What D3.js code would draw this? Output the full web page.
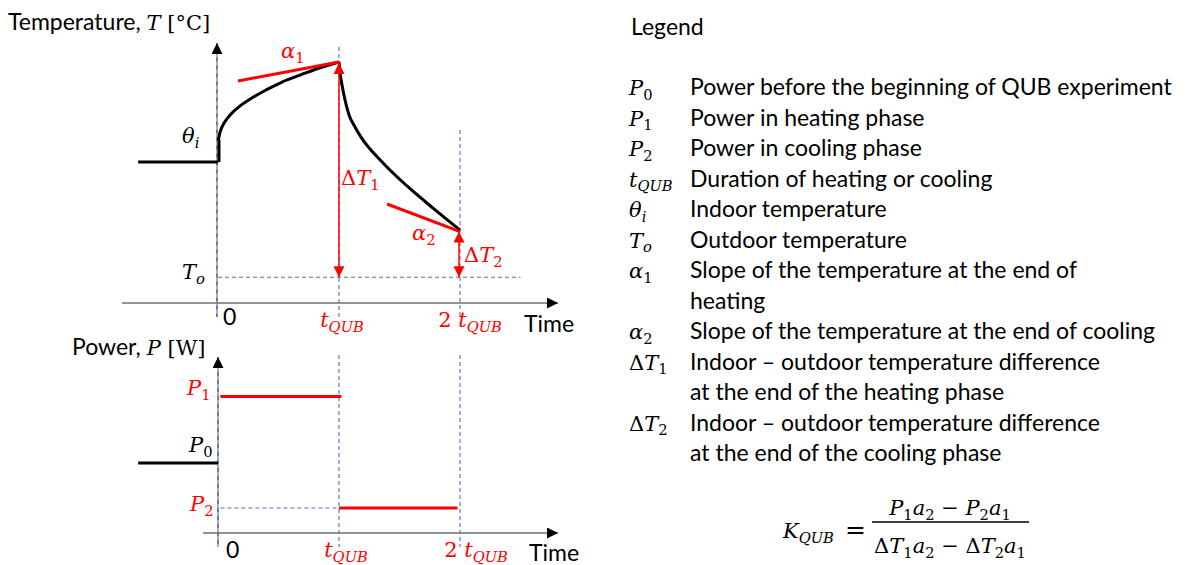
<!DOCTYPE html>
<html><head><meta charset="utf-8">
<script src="https://cdn.jsdelivr.net/npm/d3@7"></script>
<style>body{margin:0;background:#fff} svg{display:block}</style>
</head><body>
<svg id="c" width="1186" height="565"></svg>
<script>
// ---------------- data ----------------
const timeTicks = [0, 1, 2];                       // in units of t_QUB
const preTime = [-0.66, 0];
const preTemp = [5.35, 5.35];
const stepTemp = [5.35, 6.37];
const heatTime = [0.004, 0.017, 0.05, 0.1, 0.18, 0.28, 0.397, 0.529, 0.678, 0.826, 1.0];
const heatTemp = [6.37, 6.75, 7.16, 7.54, 7.95, 8.33, 8.70, 9.07, 9.39, 9.70, 10];
const coolTime = [1.0, 1.008, 1.025, 1.05, 1.083, 1.132, 1.182, 1.364, 1.562, 1.777, 2.0];
const coolTemp = [10, 9.53, 8.93, 8.23, 7.54, 6.98, 6.51, 5.31, 4.24, 3.21, 2.19];
const outdoorTemp = 0;
const alpha1Time = [0.165, 1.0], alpha1Temp = [9.12, 10];
const alpha2Time = [1.397, 2.0], alpha2Temp = [3.40, 2.12];
const powerNames = ["P0", "P1", "P2"];
const powerValues = [4.67, 9.1, 1.67];
const powerStart = [-0.66, 0.02, 1.0];
const powerEnd = [0, 1.02, 1.98];
const legendSymbols = [
  [["P","i"],["0","sr"]], [["P","i"],["1","sr"]], [["P","i"],["2","sr"]],
  [["t","i"],["QUB","si"]], [["θ","i"],["i","si"]], [["T","i"],["o","si"]],
  [["α","i"],["1","sr"]], [["α","i"],["2","sr"]],
  [["Δ","r"],["T","i"],["1","sr"]], [["Δ","r"],["T","i"],["2","sr"]]
];
const legendTexts = [
  ["Power before the beginning of QUB experiment"],
  ["Power in heating phase"],
  ["Power in cooling phase"],
  ["Duration of heating or cooling"],
  ["Indoor temperature"],
  ["Outdoor temperature"],
  ["Slope of the temperature at the end of", "heating"],
  ["Slope of the temperature at the end of cooling"],
  ["Indoor – outdoor temperature difference", "at the end of the heating phase"],
  ["Indoor – outdoor temperature difference", "at the end of the cooling phase"]
];

// ---------------- setup ----------------
const RED = "#ff0000", BLUE = "#4472c4", GRAY = "#6f6f6f";
const SANS = "Lato, 'Open Sans', sans-serif";
const SERIF = "'DejaVu Serif', 'Liberation Serif', serif";
const FS = 23;     // sans font size
const MS = 21;     // math font size
const svg = d3.select("#c");
const defs = svg.append("defs");
function marker(id, color, w, l) {
  defs.append("marker").attr("id", id).attr("markerUnits", "userSpaceOnUse")
    .attr("viewBox", `0 0 ${l} ${w}`).attr("refX", l).attr("refY", w / 2)
    .attr("markerWidth", l).attr("markerHeight", w).attr("orient", "auto-start-reverse")
    .append("path").attr("d", `M0,0L${l},${w / 2}L0,${w}Z`).attr("fill", color);
}
marker("ab", "#000", 11, 11);
marker("ar", RED, 11, 11);

const x = d3.scaleLinear().domain([0, 2]).range([218, 460]);
const yT = d3.scaleLinear().domain([-1.2, 10]).range([303, 62]);
const yP = d3.scaleLinear().domain([0, 10]).range([533, 383]);

function math(g, px, py, parts, opt) {
  opt = opt || {};
  const size = opt.size || MS;
  const t = g.append("text").attr("x", px).attr("y", py)
    .attr("font-family", SERIF).attr("font-size", size)
    .attr("fill", opt.color || "#000")
    .attr("text-anchor", opt.anchor || "start");
  let cur = 0;
  parts.forEach(([s, k]) => {
    const sub = k[0] === "s";
    const target = sub ? size * 0.22 : 0;
    const ts = t.append("tspan").text(s)
      .attr("font-style", k.endsWith("i") ? "italic" : "normal")
      .attr("font-size", sub ? size * 0.7 : size);
    if (target !== cur) { ts.attr("dy", target - cur); cur = target; }
  });
  return t;
}
function dash(g, x1, y1, x2, y2, color, da, off) {
  g.append("line").attr("x1", x1).attr("y1", y1).attr("x2", x2).attr("y2", y2)
    .attr("stroke", color).attr("stroke-width", 1.1)
    .attr("stroke-dasharray", da).attr("stroke-dashoffset", off || 0);
}
const lineGen = (ys) => d3.line().x(d => x(d[0])).y(d => ys(d[1]));
function sansText(g, px, py, s) {
  return g.append("text").attr("x", px).attr("y", py).attr("font-family", SANS)
    .attr("font-size", FS).attr("fill", "#000").text(s);
}

// ---------------- temperature panel ----------------
const gT = svg.append("g");
const tt = gT.append("text").attr("x", 8).attr("y", 30).attr("font-size", FS).attr("font-family", SANS);
tt.append("tspan").text("Temperature, ");
tt.append("tspan").text("T").attr("font-family", SERIF).attr("font-style", "italic").attr("font-size", MS);
tt.append("tspan").text(" [°C]").attr("font-family", SERIF).attr("font-size", MS);

dash(gT, x(1), yT(10.7), x(1), yT(-1.85), BLUE, "4,3");
dash(gT, x(2), yT(6.84), x(2), yT(-1.85), BLUE, "4,3");
dash(gT, x(0), yT(outdoorTemp), x(2.5), yT(outdoorTemp), GRAY, "4,3");
dash(gT, x(0) - 1, yT(10.4), x(0) - 1, yT(-1.85), BLUE, "4,4");
dash(gT, x(0) - 1, yT(10.4), x(0) - 1, yT(-1.85), "#111", "4,4", 4);
gT.append("line").attr("x1", x(0) - 1).attr("y1", yT(10.5)).attr("x2", x(0) - 1).attr("y2", yT(10.88))
  .attr("stroke", "#000").attr("stroke-width", 1).attr("marker-end", "url(#ab)");
gT.append("line").attr("x1", x(-0.793)).attr("y1", yT(-1.2)).attr("x2", x(2.81)).attr("y2", yT(-1.2))
  .attr("stroke", GRAY).attr("stroke-width", 1.6).attr("marker-end", "url(#ab)");

gT.append("path").datum(d3.zip(preTime, preTemp)).attr("d", lineGen(yT))
  .attr("fill", "none").attr("stroke", "#000").attr("stroke-width", 3);
gT.append("path").datum([[0, stepTemp[0]], [0, stepTemp[1]]]).attr("d", lineGen(yT))
  .attr("fill", "none").attr("stroke", "#000").attr("stroke-width", 3).attr("transform", "translate(1,0)");
gT.append("path").datum(d3.zip(heatTime, heatTemp)).attr("d", lineGen(yT).curve(d3.curveCatmullRom.alpha(0.5)))
  .attr("fill", "none").attr("stroke", "#000").attr("stroke-width", 3);
gT.append("path").datum(d3.zip(coolTime, coolTemp)).attr("d", lineGen(yT).curve(d3.curveMonotoneX))
  .attr("fill", "none").attr("stroke", "#000").attr("stroke-width", 3);

gT.append("path").datum(d3.zip(alpha1Time, alpha1Temp)).attr("d", lineGen(yT))
  .attr("stroke", RED).attr("stroke-width", 3);
gT.append("path").datum(d3.zip(alpha2Time, alpha2Temp)).attr("d", lineGen(yT))
  .attr("stroke", RED).attr("stroke-width", 3);
gT.append("line").attr("x1", x(1)).attr("y1", yT(10) + 1).attr("x2", x(1)).attr("y2", yT(outdoorTemp))
  .attr("stroke", RED).attr("stroke-width", 1.5).attr("marker-start", "url(#ar)").attr("marker-end", "url(#ar)");
gT.append("line").attr("x1", x(2) - 1).attr("y1", yT(alpha2Temp[1])).attr("x2", x(2) - 1).attr("y2", yT(outdoorTemp))
  .attr("stroke", RED).attr("stroke-width", 1.5).attr("marker-start", "url(#ar)").attr("marker-end", "url(#ar)");

math(gT, 182, 143, [["θ","i"],["i","si"]]);
math(gT, 182, 279, [["T","i"],["o","si"]]);
math(gT, 281, 58, [["α","i"],["1","sr"]], {color: RED});
math(gT, 341, 185, [["Δ","r"],["T","i"],["1","sr"]], {color: RED});
math(gT, 412, 240, [["α","i"],["2","sr"]], {color: RED});
math(gT, 464, 262, [["Δ","r"],["T","i"],["2","sr"]], {color: RED});
sansText(gT, x(timeTicks[0]) + 5, 325, "0");
math(gT, x(timeTicks[1]) + 3, 327, [["t","i"],["QUB","si"]], {color: RED, anchor: "middle"});
math(gT, x(timeTicks[2]) + 10, 327, [["2 ","r"],["t","i"],["QUB","si"]], {color: RED, anchor: "middle"});
sansText(gT, 524, 332, "Time");

// ---------------- power panel ----------------
const gP = svg.append("g");
const pt = gP.append("text").attr("x", 72).attr("y", 355).attr("font-size", FS).attr("font-family", SANS);
pt.append("tspan").text("Power, ");
pt.append("tspan").text("P").attr("font-family", SERIF).attr("font-style", "italic").attr("font-size", MS);
pt.append("tspan").text(" [W]").attr("font-family", SERIF).attr("font-size", MS);

dash(gP, x(1), yP(11.87), x(1), yP(-0.93), BLUE, "4,3");
dash(gP, x(2), yP(11.87), x(2), yP(-0.93), BLUE, "4,3");
dash(gP, x(0.02), yP(powerValues[2]), x(1), yP(powerValues[2]), BLUE, "4,3");
dash(gP, x(0), yP(11), x(0), yP(-0.93), BLUE, "4,4");
dash(gP, x(0), yP(11), x(0), yP(-0.93), "#111", "4,4", 4);
gP.append("line").attr("x1", x(0)).attr("y1", yP(11.1)).attr("x2", x(0)).attr("y2", yP(11.73))
  .attr("stroke", "#000").attr("stroke-width", 1).attr("marker-end", "url(#ab)");
gP.append("line").attr("x1", x(-0.124)).attr("y1", yP(0)).attr("x2", x(2.81)).attr("y2", yP(0))
  .attr("stroke", GRAY).attr("stroke-width", 1.6).attr("marker-end", "url(#ab)");

powerNames.forEach((n, i) => {
  gP.append("line").attr("x1", x(powerStart[i])).attr("x2", x(powerEnd[i]))
    .attr("y1", yP(powerValues[i])).attr("y2", yP(powerValues[i]))
    .attr("stroke", i === 0 ? "#000" : RED).attr("stroke-width", 3);
});
math(gP, 187, 395, [["P","i"],["1","sr"]], {color: RED});
math(gP, 189, 452, [["P","i"],["0","sr"]]);
math(gP, 190, 511, [["P","i"],["2","sr"]], {color: RED});
sansText(gP, x(timeTicks[0]) + 8, 558, "0");
math(gP, x(timeTicks[1]) + 7, 557, [["t","i"],["QUB","si"]], {color: RED, anchor: "middle"});
math(gP, x(timeTicks[2]) + 16, 557, [["2 ","r"],["t","i"],["QUB","si"]], {color: RED, anchor: "middle"});
sansText(gP, 529, 561, "Time");

// ---------------- legend ----------------
const gL = svg.append("g");
sansText(gL, 631, 35, "Legend");
let row = 0;
legendSymbols.forEach((sym, i) => {
  const by = 95 + row * 30.5;
  math(gL, 629, by, sym);
  legendTexts[i].forEach((line, j) => sansText(gL, 690, by + j * 30.5, line));
  row += legendTexts[i].length;
});

// ---------------- formula ----------------
math(gL, 783, 538, [["K","i"],["QUB","si"]]);
math(gL, 845, 538, [["=","r"]], {size: 25});
math(gL, 950, 515, [["P","i"],["1","sr"],["a","i"],["2","sr"],[" − ","r"],["P","i"],["2","sr"],["a","i"],["1","sr"]], {anchor: "middle"});
gL.append("line").attr("x1", 872).attr("x2", 1029).attr("y1", 522).attr("y2", 522).attr("stroke", "#000").attr("stroke-width", 1.4);
math(gL, 950, 553, [["Δ","r"],["T","i"],["1","sr"],["a","i"],["2","sr"],[" − ","r"],["Δ","r"],["T","i"],["2","sr"],["a","i"],["1","sr"]], {anchor: "middle"});
</script>
</body></html>
